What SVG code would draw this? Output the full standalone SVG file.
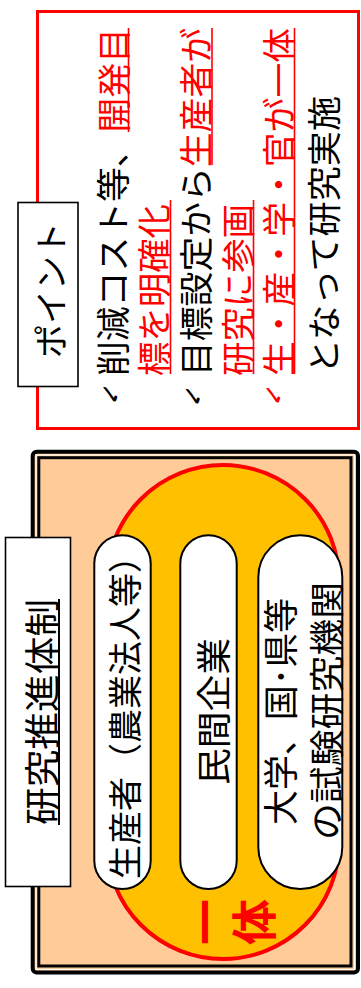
<svg xmlns="http://www.w3.org/2000/svg" width="361" height="988" viewBox="0 0 361 988">
<style>
text{font-family:"Noto Sans CJK JP","Noto Sans CJK SC",sans-serif;dominant-baseline:central;fill:#000;}
.r{fill:#FF0000;}
.chk{font-family:"DejaVu Sans",sans-serif;font-size:27px;text-anchor:middle;font-weight:bold;}
.ulr{stroke:#FF0000;stroke-width:1.6;}
.ulk{stroke:#000;stroke-width:2;}
.pill{fill:#fff;stroke:#000;stroke-width:2;}
.box{fill:#fff;stroke:#000;stroke-width:1.6;}
</style>
<rect width="361" height="988" fill="#fff"/>

<g id="point-frame">
<rect x="37.5" y="11.5" width="321" height="417" fill="#fff" stroke="#FF0000" stroke-width="3"/>
</g>

<g id="point-label">
<rect class="box" x="18" y="202.5" width="60" height="184"/>
<text font-size="34" text-anchor="middle" transform="translate(49,290) rotate(-90)">ポイント</text>
</g>

<g id="point-text">
<text class="chk" transform="translate(110,394) scale(-1,1)">✓</text>
<text font-size="34" textLength="348" lengthAdjust="spacingAndGlyphs" transform="translate(111.5,376) rotate(-90)">削減コスト等、<tspan class="r">開発目</tspan></text>
<line class="ulr" x1="128.5" y1="132" x2="128.5" y2="28"/>
<text class="r" font-size="34" textLength="172" lengthAdjust="spacingAndGlyphs" transform="translate(152.5,376) rotate(-90)">標を明確化</text>
<line class="ulr" x1="170.5" y1="374" x2="170.5" y2="200"/>
<text class="chk" transform="translate(192.5,396) scale(-1,1)">✓</text>
<text font-size="34" textLength="348" lengthAdjust="spacingAndGlyphs" transform="translate(194,376) rotate(-90)">目標設定から<tspan class="r">生産者が</tspan></text>
<line class="ulr" x1="212" y1="165" x2="212" y2="28"/>
<text class="r" font-size="34" textLength="172" lengthAdjust="spacingAndGlyphs" transform="translate(236,376) rotate(-90)">研究に参画</text>
<line class="ulr" x1="253.5" y1="374" x2="253.5" y2="200"/>
<text class="chk r" transform="translate(273,395) scale(-1,1)">✓</text>
<text class="r" font-size="34" textLength="348" lengthAdjust="spacingAndGlyphs" transform="translate(277,376) rotate(-90)">生・産・学・官が一体</text>
<line class="ulr" x1="294.5" y1="374" x2="294.5" y2="28"/>
<text font-size="34" textLength="278" lengthAdjust="spacingAndGlyphs" transform="translate(322,374) rotate(-90)">となって研究実施</text>
</g>

<g id="structure-frame">
<rect x="32.7" y="451.7" width="325.3" height="520.8" rx="4" fill="#FFCC99" stroke="#000" stroke-width="4"/>
<rect x="36" y="455" width="318.5" height="514.5" fill="none" stroke="#fff" stroke-width="1"/>
<rect x="38.8" y="457.7" width="312.2" height="508.3" fill="none" stroke="#000" stroke-width="3"/>
</g>

<g id="ittai">
<rect x="107" y="465" width="232" height="494" rx="116" ry="116" fill="#FFC000" stroke="#FF0000" stroke-width="4"/>
<text class="r" font-size="46" font-weight="bold" text-anchor="middle" transform="translate(202,922) rotate(-90)">一</text>
<text class="r" font-size="46" font-weight="bold" text-anchor="middle" transform="translate(251,922) rotate(-90)">体</text>
</g>

<g id="body-label">
<rect class="box" x="5.5" y="537.5" width="65" height="349"/>
<text font-size="36" textLength="226" lengthAdjust="spacingAndGlyphs" transform="translate(40,825) rotate(-90)">研究推進体制</text>
<line class="ulk" x1="59" y1="825" x2="59" y2="599"/>
</g>

<g id="pill-producer">
<rect class="pill" x="94.3" y="535.3" width="56.4" height="353.7" rx="28.2" ry="28.2"/>
<text font-size="34" textLength="340" lengthAdjust="spacingAndGlyphs" transform="translate(123,879) rotate(-90)">生産者（農業法人等）</text>
</g>

<g id="pill-company">
<rect class="pill" x="180.3" y="535.3" width="56.4" height="353.7" rx="28.2" ry="28.2"/>
<text font-size="35" textLength="147" lengthAdjust="spacingAndGlyphs" transform="translate(211,785) rotate(-90)">民間企業</text>
</g>

<g id="pill-institutes">
<rect class="pill" x="258.3" y="535.3" width="84" height="353.7" rx="42" ry="42"/>
<text font-size="35" textLength="227" lengthAdjust="spacingAndGlyphs" transform="translate(278,825) rotate(-90)">大学、国･県等</text>
<text font-size="35" textLength="258" lengthAdjust="spacingAndGlyphs" transform="translate(324,840) rotate(-90)">の試験研究機関</text>
</g>

<g id="connectors"></g>
</svg>
